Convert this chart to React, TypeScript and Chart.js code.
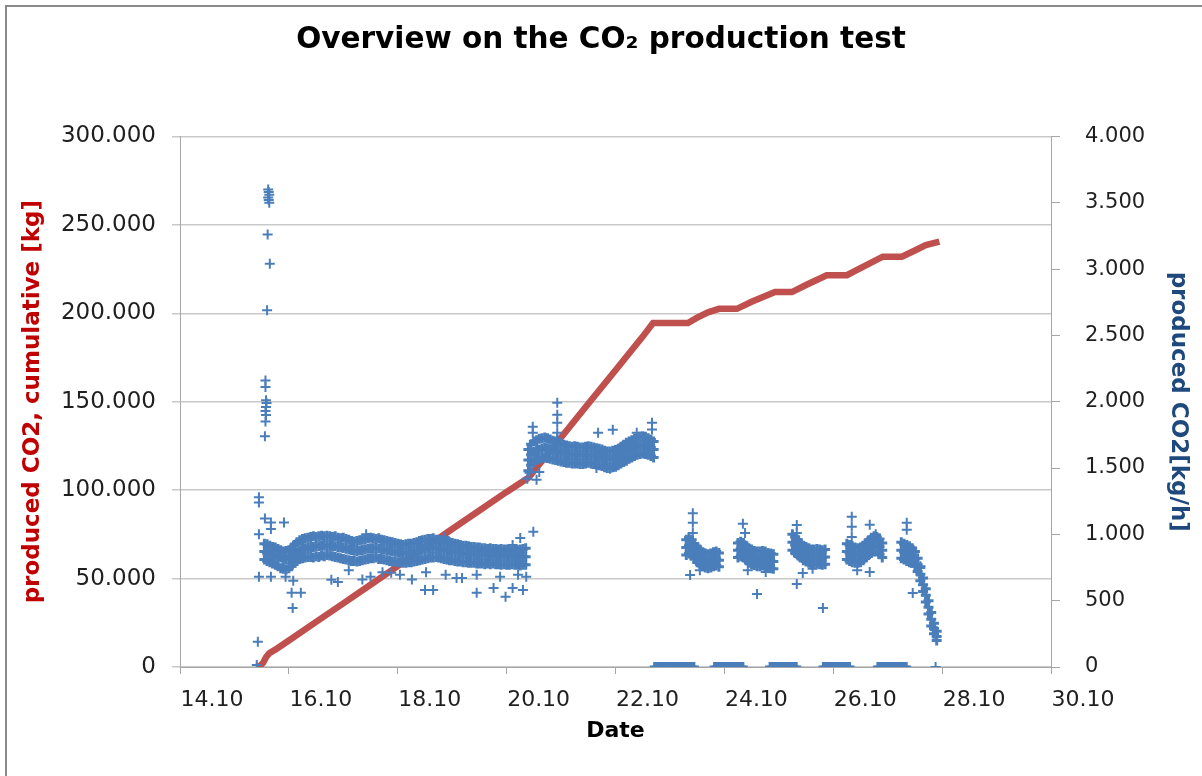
import React, { useEffect, useRef } from 'react';
import { Chart, registerables } from 'chart.js';

Chart.register(...registerables);

// ---------- data (days of October) ----------
const titleText = 'Overview on the CO₂ production test';
const leftAxisTitle = 'produced CO2, cumulative [kg]';
const rightAxisTitle = 'produced CO2[kg/h]';
const xAxisTitle = 'Date';

// cumulative produced CO2 [kg]
const cumDays = [15.40, 15.47, 15.53, 15.58, 15.64, 15.75, 16.0, 16.5, 17.0, 17.5, 18.0, 18.5, 19.0, 19.5, 20.0, 20.4, 21.0, 21.5, 22.0, 22.5, 22.69, 23.33, 23.5, 23.7, 23.9, 24.23, 24.5, 24.93, 25.24, 25.5, 25.88, 26.25, 26.5, 26.91, 27.26, 27.5, 27.7, 27.95];
const cumKg = [0, 600, 2500, 5500, 7800, 9800, 15000, 25500, 36000, 46500, 57000, 67500, 78000, 88500, 99000, 107000, 129800, 148800, 167800, 186800, 194500, 194500, 197500, 200500, 202500, 202500, 206500, 212000, 212000, 216000, 221500, 221500, 225500, 232000, 232000, 235500, 238500, 240500];

// production rate [kg/h] – first operating period
const bandBDays = [15.55, 15.60, 15.65, 15.70, 15.75, 15.80, 15.85, 15.90, 15.95, 16.00, 16.05, 16.10, 16.15, 16.20, 16.25, 16.30, 16.35, 16.40, 16.45, 16.50, 16.55, 16.60, 16.65, 16.70, 16.75, 16.80, 16.85, 16.90, 16.95, 17.00, 17.05, 17.10, 17.15, 17.20, 17.25, 17.30, 17.35, 17.40, 17.45, 17.50, 17.55, 17.60, 17.65, 17.70, 17.75, 17.80, 17.85, 17.90, 17.95, 18.00, 18.05, 18.10, 18.15, 18.20, 18.25, 18.30, 18.35, 18.40, 18.45, 18.50, 18.55, 18.60, 18.65, 18.70, 18.75, 18.80, 18.85, 18.90, 18.95, 19.00, 19.05, 19.10, 19.15, 19.20, 19.25, 19.30, 19.35, 19.40, 19.45, 19.50, 19.55, 19.60, 19.65, 19.70, 19.75, 19.80, 19.85, 19.90, 19.95, 20.00, 20.05, 20.10, 20.15, 20.20, 20.25, 20.30, 20.35];
const bandBMid = [870, 860, 855, 850, 840, 830, 825, 815, 810, 815, 830, 850, 865, 880, 890, 895, 900, 905, 905, 910, 910, 915, 915, 918, 915, 912, 910, 905, 900, 898, 892, 885, 880, 876, 874, 878, 882, 888, 892, 895, 896, 895, 893, 890, 886, 880, 876, 872, 868, 865, 862, 860, 858, 860, 863, 867, 872, 878, 884, 890, 894, 897, 898, 897, 895, 891, 886, 881, 876, 872, 868, 864, 860, 857, 854, 852, 850, 848, 846, 844, 842, 840, 839, 838, 838, 837, 836, 835, 835, 834, 833, 832, 831, 830, 830, 831, 832];
const bandBHi = [930, 925, 915, 905, 900, 890, 880, 870, 875, 880, 900, 920, 940, 955, 965, 970, 975, 980, 985, 980, 985, 990, 985, 990, 985, 980, 985, 975, 970, 975, 965, 960, 950, 945, 950, 955, 960, 965, 970, 975, 970, 965, 970, 960, 955, 950, 945, 940, 935, 930, 925, 920, 925, 930, 930, 935, 940, 950, 955, 960, 965, 965, 970, 960, 960, 955, 950, 945, 940, 935, 930, 925, 920, 915, 915, 910, 905, 905, 900, 900, 895, 895, 890, 895, 890, 890, 885, 890, 885, 885, 880, 885, 880, 880, 885, 890, 895];
const bandBLo = [810, 800, 790, 780, 770, 760, 745, 740, 735, 745, 760, 785, 800, 815, 820, 825, 830, 830, 825, 835, 830, 840, 835, 845, 840, 835, 830, 825, 820, 815, 810, 805, 800, 800, 795, 800, 805, 810, 815, 820, 820, 825, 815, 815, 810, 805, 800, 795, 795, 790, 790, 785, 785, 790, 790, 795, 800, 805, 810, 815, 820, 825, 825, 830, 825, 820, 815, 810, 805, 805, 800, 795, 795, 790, 790, 785, 785, 785, 780, 780, 780, 775, 780, 775, 780, 775, 775, 770, 775, 770, 770, 775, 770, 770, 765, 770, 770];

// second operating period (higher rate)
const bandCDays = [20.40, 20.45, 20.50, 20.55, 20.60, 20.65, 20.70, 20.75, 20.80, 20.85, 20.90, 20.95, 21.00, 21.05, 21.10, 21.15, 21.20, 21.25, 21.30, 21.35, 21.40, 21.45, 21.50, 21.55, 21.60, 21.65, 21.70, 21.75, 21.80, 21.85, 21.90, 21.95, 22.00, 22.05, 22.10, 22.15, 22.20, 22.25, 22.30, 22.35, 22.40, 22.45, 22.50, 22.55, 22.60, 22.65, 22.70];
const bandCMid = [1560, 1600, 1620, 1635, 1640, 1648, 1655, 1650, 1642, 1635, 1630, 1622, 1615, 1610, 1605, 1602, 1600, 1600, 1598, 1596, 1594, 1596, 1600, 1600, 1596, 1590, 1585, 1578, 1570, 1565, 1564, 1568, 1575, 1585, 1598, 1610, 1622, 1635, 1646, 1656, 1665, 1672, 1675, 1670, 1662, 1652, 1640];
const bandCHi = [1640, 1680, 1700, 1710, 1720, 1725, 1730, 1725, 1715, 1705, 1700, 1690, 1680, 1675, 1670, 1665, 1660, 1665, 1660, 1655, 1655, 1660, 1665, 1660, 1655, 1650, 1645, 1640, 1630, 1625, 1625, 1630, 1635, 1645, 1660, 1675, 1690, 1700, 1710, 1720, 1730, 1735, 1740, 1735, 1725, 1715, 1700];
const bandCLo = [1480, 1520, 1545, 1560, 1570, 1575, 1580, 1575, 1570, 1565, 1560, 1555, 1550, 1545, 1540, 1540, 1535, 1535, 1535, 1530, 1530, 1535, 1540, 1535, 1530, 1525, 1520, 1515, 1505, 1500, 1500, 1505, 1510, 1520, 1535, 1545, 1555, 1570, 1580, 1590, 1600, 1605, 1610, 1605, 1600, 1590, 1580];

// intermittent operation, five short periods
const clusterDays = [
  23.30, 23.35, 23.40, 23.45, 23.50, 23.55, 23.60, 23.65, 23.70, 23.75, 23.80, 23.85, 23.90,
  24.25, 24.30, 24.35, 24.40, 24.45, 24.50, 24.55, 24.60, 24.65, 24.70, 24.75, 24.80, 24.85, 24.90,
  25.25, 25.30, 25.35, 25.40, 25.45, 25.50, 25.55, 25.60, 25.65, 25.70, 25.75, 25.80, 25.85,
  26.25, 26.30, 26.35, 26.40, 26.45, 26.50, 26.55, 26.60, 26.65, 26.70, 26.75, 26.80, 26.85, 26.90,
  27.25, 27.30, 27.35, 27.40, 27.45, 27.50, 27.55, 27.60, 27.65, 27.70, 27.75, 27.80, 27.85, 27.90,
];
const clusterMid = [
  900, 915, 900, 870, 850, 830, 810, 800, 790, 795, 810, 815, 805,
  880, 890, 880, 860, 840, 830, 822, 815, 815, 820, 815, 805, 800, 795,
  940, 920, 900, 880, 860, 850, 840, 832, 830, 835, 830, 825, 830,
  870, 860, 850, 842, 840, 845, 860, 880, 900, 918, 928, 925, 908, 880,
  880, 870, 860, 850, 840, 815, 770, 700, 620, 540, 450, 360, 290, 230,
];
const clusterHi = [
  960, 975, 960, 930, 905, 885, 865, 855, 850, 855, 865, 870, 860,
  935, 945, 935, 915, 895, 885, 875, 870, 870, 875, 870, 860, 855, 850,
  1000, 980, 960, 935, 915, 905, 895, 885, 885, 890, 885, 880, 885,
  930, 920, 910, 900, 895, 900, 915, 935, 955, 975, 985, 980, 965, 935,
  940, 930, 920, 910, 895, 870, 820, 750, 670, 590, 500, 410, 330, 270,
];
const clusterLo = [
  845, 855, 840, 815, 790, 775, 760, 750, 745, 750, 760, 765, 755,
  825, 835, 825, 805, 785, 775, 768, 760, 760, 765, 760, 750, 745, 740,
  880, 860, 840, 825, 805, 795, 785, 775, 775, 780, 775, 770, 775,
  810, 800, 790, 785, 785, 790, 805, 825, 845, 860, 870, 870, 850, 825,
  820, 810, 800, 790, 785, 760, 720, 650, 570, 490, 400, 310, 250, 200,
];

// single scattered readings
const outlierDays = [
  15.62, 15.63, 15.64, 15.62, 15.63, 15.64, 15.61, 15.65, 15.60, 15.57, 15.57, 15.58, 15.59, 15.58, 15.57, 15.58, 15.57, 15.56,
  15.45, 15.45, 15.56, 15.67, 15.67, 15.91, 15.45, 15.45, 15.67, 15.94, 16.08, 16.05, 16.22, 16.07, 15.43, 15.41,
  16.78, 16.90, 17.10, 17.35, 17.50, 17.72, 17.88, 18.04, 18.26, 18.50, 18.65, 18.52, 18.88, 19.08, 19.18, 19.45, 19.45, 19.45,
  19.76, 19.88, 19.98, 20.11, 20.21, 20.30, 20.36, 17.42, 18.86, 20.25, 20.49, 20.11,
  20.48, 20.48, 20.42, 20.55, 20.38, 20.93, 20.93, 20.93, 20.93, 20.93, 21.68, 21.95, 22.39, 22.67, 22.67, 21.65, 21.90, 20.60,
  23.42, 23.42, 23.42, 23.37, 23.55, 23.65, 24.34, 24.38, 24.60, 24.43, 24.76, 25.33, 25.33, 25.33, 25.44, 25.81, 25.62,
  26.34, 26.34, 26.34, 26.67, 26.67, 26.44, 26.78, 27.35, 27.35, 27.46, 27.60,
];
const outlierRates = [
  3600, 3580, 3560, 3540, 3520, 3500, 3260, 3040, 2690, 2160, 2110, 2010, 1990, 1960, 1930, 1900, 1850, 1740,
  1280, 1240, 1120, 1090, 1040, 1090, 1000, 680, 680, 680, 650, 560, 560, 445, 190, 15,
  657, 640, 730, 660, 680, 715, 710, 695, 660, 580, 580, 715, 695, 670, 670, 785, 695, 560,
  595, 680, 530, 595, 695, 580, 680, 1000, 980, 973, 1019, 920,
  1811, 1766, 1464, 1411, 1420, 1992, 1902, 1841, 1766, 1720, 1766, 1789, 1766, 1841, 1790, 1500, 1495, 1470,
  1160, 1087, 1010, 694, 730, 760, 1079, 1010, 551, 730, 717, 1070, 1010, 626, 709, 445, 740,
  1132, 1057, 980, 1072, 717, 730, 1000, 1087, 1034, 558, 760,
];

// readings of zero production (plant stopped)
const zeroDays = [
  22.72, 22.76, 22.80, 22.84, 22.88, 22.92, 22.96, 23.00, 23.04, 23.08, 23.12, 23.16, 23.20, 23.24, 23.28, 23.32, 23.36, 23.40, 23.44,
  23.82, 23.86, 23.90, 23.94, 23.98, 24.02, 24.06, 24.10, 24.14, 24.18, 24.22, 24.26, 24.30, 24.34,
  24.84, 24.88, 24.92, 24.96, 25.00, 25.04, 25.08, 25.12, 25.16, 25.20, 25.24, 25.28, 25.32,
  25.82, 25.86, 25.90, 25.94, 25.98, 26.02, 26.06, 26.10, 26.14, 26.18, 26.22, 26.26, 26.30,
  26.82, 26.86, 26.90, 26.94, 26.98, 27.02, 27.06, 27.10, 27.14, 27.18, 27.22, 27.26, 27.30, 27.34,
];
const zeroSingleDays = [27.88];

const xTicks = [14, 16, 18, 20, 22, 24, 26, 28, 30];

// ---------- helpers ----------
const zip = (xs: number[], ys: number[]) => xs.map((x, i) => ({ x, y: ys[i] }));
const fmtThousands = (v: number) => String(Math.round(v)).replace(/\B(?=(\d{3})+(?!\d))/g, '.');

const redPoints = zip(cumDays, cumKg);
const densePoints = [
  ...zip(bandBDays, bandBHi), ...zip(bandBDays, bandBMid), ...zip(bandBDays, bandBLo),
  ...zip(bandCDays, bandCHi), ...zip(bandCDays, bandCMid), ...zip(bandCDays, bandCLo),
  ...zip(clusterDays, clusterHi), ...zip(clusterDays, clusterMid), ...zip(clusterDays, clusterLo),
  ...zeroDays.map((d) => ({ x: d, y: 0 })),
];
const singlePoints = [
  ...zip(outlierDays, outlierRates),
  ...zeroSingleDays.map((d) => ({ x: d, y: 0 })),
];

const FONT = 'DejaVu Sans';
const GRID = '#c9c9c9';
const AXIS = '#a6a6a6';
const TICK_TEXT = '#1f1f1f';
const BLUE = '#4A7EBB';

const blueStyle = (width: number) => ({
  yAxisID: 'y1',
  showLine: false,
  pointStyle: 'cross',
  pointRadius: 5,
  pointBorderWidth: width,
  pointBorderColor: BLUE,
  pointBackgroundColor: BLUE,
  borderColor: BLUE,
  backgroundColor: BLUE,
});

export default function App() {
  const canvasRef = useRef<HTMLCanvasElement | null>(null);

  useEffect(() => {
    if (!canvasRef.current) return;
    Chart.defaults.font.family = FONT;
    const chart = new Chart(canvasRef.current, {
      type: 'scatter',
      data: {
        datasets: [
          { label: rightAxisTitle, data: singlePoints, ...blueStyle(2) },
          { label: rightAxisTitle + ' dense', data: densePoints, ...blueStyle(3) },
          {
            label: leftAxisTitle,
            data: redPoints,
            yAxisID: 'y',
            showLine: true,
            borderColor: '#C0504D',
            backgroundColor: '#C0504D',
            borderWidth: 6.5,
            pointRadius: 0,
            tension: 0,
          },
        ],
      },
      options: {
        animation: false,
        responsive: true,
        maintainAspectRatio: false,
        events: [],
        layout: { padding: 0 },
        plugins: {
          legend: { display: false },
          tooltip: { enabled: false },
          title: {
            display: true,
            text: titleText,
            color: '#000',
            font: { family: FONT, size: 29.5, weight: 'bold' },
            padding: { top: 23, bottom: 78 },
          },
        },
        scales: {
          x: {
            type: 'linear',
            position: 'bottom',
            min: 14,
            max: 30,
            afterBuildTicks: (s: any) => {
              s.ticks = xTicks.map((v) => ({ value: v }));
            },
            afterFit: (s: any) => {
              s.height = 109;
            },
            ticks: {
              callback: (v: any) => `${v}.10`,
              labelOffset: 32,
              padding: 13,
              maxRotation: 0,
              autoSkip: false,
              color: TICK_TEXT,
              font: { family: FONT, size: 22 },
            },
            grid: { drawOnChartArea: false, drawTicks: true, tickLength: 7, color: AXIS },
            border: { display: true, color: AXIS },
            title: {
              display: true,
              text: xAxisTitle,
              color: '#000',
              font: { family: FONT, size: 22, weight: 'bold' },
              padding: { top: 0, bottom: 32 },
            },
          },
          y: {
            position: 'left',
            min: 0,
            max: 300000,
            afterFit: (s: any) => {
              s.width = 180;
            },
            ticks: {
              stepSize: 50000,
              callback: (v: any) => fmtThousands(Number(v)),
              padding: 16,
              color: TICK_TEXT,
              font: { family: FONT, size: 23 },
            },
            grid: { color: GRID, lineWidth: 1.5, tickLength: 8, drawTicks: true },
            border: { display: true, color: AXIS },
            title: {
              display: true,
              text: leftAxisTitle,
              color: '#C00000',
              font: { family: FONT, size: 23, weight: 'bold' },
              padding: { top: 19, bottom: 0 },
            },
          },
          y1: {
            position: 'right',
            min: 0,
            max: 4000,
            afterFit: (s: any) => {
              s.width = 151;
            },
            ticks: {
              stepSize: 500,
              callback: (v: any) => fmtThousands(Number(v)),
              padding: 25,
              color: TICK_TEXT,
              font: { family: FONT, size: 21 },
            },
            grid: { drawOnChartArea: false, drawTicks: true, tickLength: 9, color: AXIS },
            border: { display: true, color: AXIS },
            title: {
              display: true,
              text: rightAxisTitle,
              color: '#1F497D',
              font: { family: FONT, size: 23, weight: 'bold' },
              padding: { top: 10, bottom: 0 },
            },
          },
        },
      } as any,
    });
    return () => chart.destroy();
  }, []);

  return (
    <div style={{ position: 'absolute', left: 0, top: 0, width: 1202, height: 776, overflow: 'hidden', background: '#fff' }}>
      <div
        style={{
          position: 'absolute',
          left: 5,
          top: 5,
          width: 1300,
          height: 900,
          borderLeft: '2px solid #8a8a8a',
          borderTop: '2px solid #8a8a8a',
        }}
      />
      <div style={{ position: 'absolute', left: 0, top: 0, width: 1202, height: 776 }}>
        <canvas ref={canvasRef} />
      </div>
    </div>
  );
}
